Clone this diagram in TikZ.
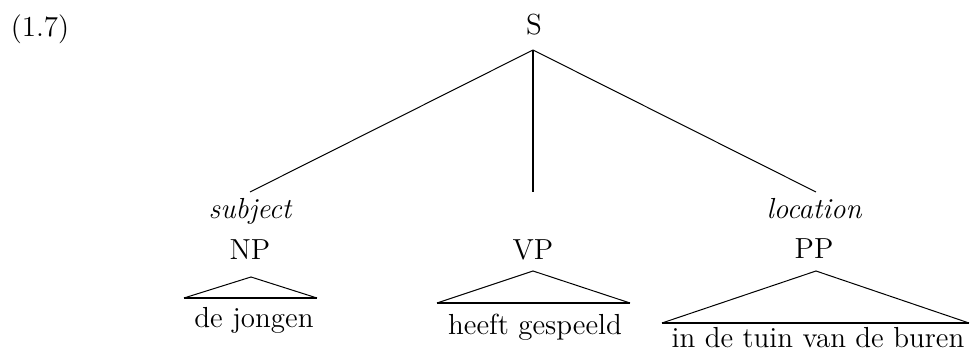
\documentclass[tikz,border=0pt]{standalone}
\begin{document}
\begin{tikzpicture}[x=0.5pt,y=-0.5pt,
  lab/.style={font=\fontsize{14.5}{17}\selectfont, inner sep=0pt, anchor=base},
  rel/.style={lab, font=\fontsize{14.5}{17}\selectfont\itshape},
  branch/.style={line width=0.5pt},
  trunk/.style={line width=1pt},
  baseline/.style={line width=1pt},
  roof/.style={line width=0.5pt, line join=miter}]
\useasboundingbox (0,0) rectangle (971,356);
\node[lab] (ex) at (40,37) {(1.7)};
\node[lab] (S) at (534,35) {S};
\coordinate (sapex) at (533,50);
\coordinate (lend) at (250,192);
\coordinate (mend) at (533,192);
\coordinate (rend) at (816,192);
\draw[branch] (sapex) -- (lend);
\draw[trunk] (sapex) -- (mend);
\draw[branch] (sapex) -- (rend);
% labels
\node[rel] (subj) at (250,219) {subject};
\node[rel] (loc) at (814,219) {location};
\node[lab] (NP) at (250,260) {NP};
\node[lab] (VP) at (533,260) {VP};
\node[lab] (PP) at (814,259) {PP};
% NP triangle
\coordinate (npa) at (251,277);
\coordinate (npl) at (184,298);
\coordinate (npr) at (317,298);
\draw[roof] (npl) -- (npa) -- (npr);
\draw[baseline] (npl) -- (npr);
\node[lab] (npt) at (254,328) {de jongen};
% VP triangle
\coordinate (vpa) at (533,271);
\coordinate (vpl) at (437,303);
\coordinate (vpr) at (630,303);
\draw[roof] (vpl) -- (vpa) -- (vpr);
\draw[baseline] (vpl) -- (vpr);
\node[lab] (vpt) at (535,335) {heeft gespeeld};
% PP triangle
\coordinate (ppa) at (816,271);
\coordinate (ppl) at (662,323);
\coordinate (ppr) at (969,323);
\draw[roof] (ppl) -- (ppa) -- (ppr);
\draw[baseline] (ppl) -- (ppr);
\node[lab] (ppt) at (818,348) {in de tuin van de buren};
\end{tikzpicture}
\end{document}
